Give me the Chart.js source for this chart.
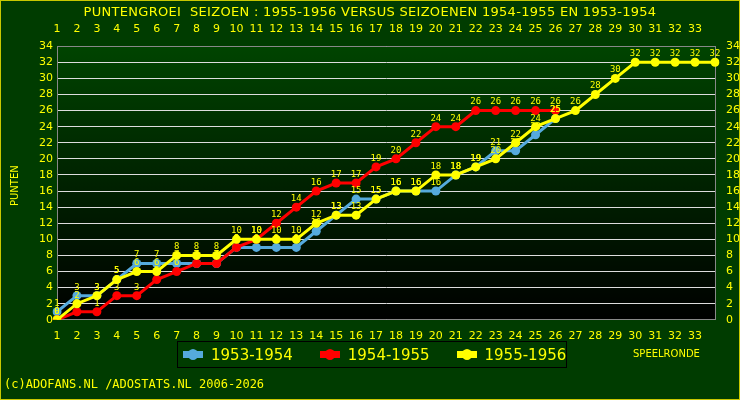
<!DOCTYPE html>
<html>
<head>
<meta charset="utf-8">
<script src="https://cdn.jsdelivr.net/npm/chart.js@4"></script>
<style>
body { margin: 0; background: #003c00; }
#wrap { position: relative; width: 738px; height: 398px; border: 1px solid #c8c800; background: #003c00; font-family: "DejaVu Sans", sans-serif; color: #ffff00; }
#title { position: absolute; top: 3px; left: 0; width: 738px; text-align: center; font-size: 13px; letter-spacing: 0.3px; }
#legend { position: absolute; left: 176px; top: 340px; width: 388px; height: 25px; border: 1px solid #000; display: flex; align-items: center; font-size: 15px; white-space: nowrap; }
#legend span.it { display: flex; align-items: center; margin-left: 5px; margin-right: 22px; }
.mk { position: relative; width: 20px; height: 7px; margin-right: 8px; }
.mk i { position: absolute; left: 5px; top: -2px; width: 10px; height: 11px; border-radius: 50%; }
#speel { position: absolute; left: 632px; top: 347px; font-size: 10px; }
#copy { position: absolute; left: 3px; top: 376px; font-size: 12px; font-family: "DejaVu Sans Mono", monospace; }
#punten { position: absolute; left: 8px; top: 205px; font-size: 10px; transform: rotate(-90deg); transform-origin: left top; }
canvas { position: absolute; left: 0; top: 0; }
</style>
</head>
<body>
<div id="wrap">
  <canvas id="c" width="738" height="398"></canvas>
  <div id="title">PUNTENGROEI&nbsp; SEIZOEN : 1955-1956 VERSUS SEIZOENEN 1954-1955 EN 1953-1954</div>
  <div id="punten">PUNTEN</div>
  <div id="legend">
    <span class="it"><span class="mk" style="background:#55aadd"><i style="background:#55aadd"></i></span>1953-1954</span>
    <span class="it"><span class="mk" style="background:#ff0000"><i style="background:#ff0000"></i></span>1954-1955</span>
    <span class="it"><span class="mk" style="background:#ffff00"><i style="background:#ffff00"></i></span>1955-1956</span>
  </div>
  <div id="speel">SPEELRONDE</div>
  <div id="copy">(c)ADOFANS.NL /ADOSTATS.NL 2006-2026</div>
</div>
<script>
// speelrondes
var rondes = [];
for (var i = 1; i <= 34; i++) rondes.push(String(i));

var seizoen5354 = [1,3,3,5,7,7,7,7,7,9,9,9,9,11,13,15,15,16,16,16,18,19,21,21,23,25];
var seizoen5455 = [0,1,1,3,3,5,6,7,7,9,10,12,14,16,17,17,19,20,22,24,24,26,26,26,26,26];
var seizoen5556 = [0,2,3,5,6,6,8,8,8,10,10,10,10,12,13,13,15,16,16,18,18,19,20,22,24,25,26,28,30,32,32,32,32,32];

// achtergrond van het plotgebied
var bgPlugin = {
    id: "bg",
    beforeDraw: function (chart) {
        var a = chart.chartArea, ctx = chart.ctx;
        var g = ctx.createLinearGradient(0, a.top, 0, a.bottom);
        g.addColorStop(0, "#004400");
        g.addColorStop(1, "#000000");
        ctx.fillStyle = g;
        ctx.fillRect(a.left, a.top, a.right - a.left, a.bottom - a.top);
    }
};

// waardes boven de punten
var labelPlugin = {
    id: "labels",
    afterDatasetsDraw: function (chart) {
        var ctx = chart.ctx;
        ctx.save();
        ctx.font = "9px 'DejaVu Sans Mono'";
        ctx.textAlign = "center";
        ctx.textBaseline = "bottom";
        chart.data.datasets.forEach(function (ds, di) {
            var meta = chart.getDatasetMeta(di);
            ctx.fillStyle = ds.labelColor;
            meta.data.forEach(function (pt, idx) {
                ctx.fillText(ds.data[idx], pt.x, pt.y - 4);
            });
        });
        ctx.restore();
    }
};

function ds(label, data, color, order) {
    return {
        label: label, data: data, borderColor: color, backgroundColor: color, order: order,
        borderWidth: 3, pointRadius: 4.5, pointBorderWidth: 0, labelColor: "#ffff00", tension: 0
    };
}

var tickStyle = { color: "#ffff00", font: { size: 11, family: "DejaVu Sans" } };

new Chart(document.getElementById("c"), {
    type: "line",
    data: {
        labels: rondes,
        datasets: [
            ds("1953-1954", seizoen5354, "#55aadd", 3),
            ds("1954-1955", seizoen5455, "#ff0000", 2),
            ds("1955-1956", seizoen5556, "#ffff00", 1)
        ]
    },
    options: {
        responsive: false,
        animation: false,
        layout: { padding: { left: 22, right: 0, top: 20, bottom: 54 } },
        plugins: { legend: { display: false }, tooltip: { enabled: false } },
        scales: {
            x: {
                offset: false,
                grid: { display: false },
                border: { color: "#888888" },
                ticks: Object.assign({ maxRotation: 0, autoSkip: false, padding: 2,
                    callback: function (v, i) { return i < 33 ? rondes[i] : ""; } }, tickStyle)
            },
            x2: {
                position: "top", offset: false, labels: rondes,
                grid: { display: false }, border: { color: "#888888" },
                ticks: Object.assign({ maxRotation: 0, autoSkip: false, padding: 2,
                    callback: function (v, i) { return i < 33 ? rondes[i] : ""; } }, tickStyle)
            },
            y: {
                min: 0, max: 34,
                grid: { color: "#dddddd", lineWidth: 1, drawTicks: false },
                border: { color: "#888888" },
                ticks: Object.assign({ stepSize: 2, padding: 4, autoSkip: false }, tickStyle),
                afterFit: function (s) { s.width = 34; }
            },
            y2: {
                position: "right", min: 0, max: 34,
                grid: { display: false }, border: { color: "#888888" },
                ticks: Object.assign({ stepSize: 2, padding: 3, autoSkip: false }, tickStyle),
                afterFit: function (s) { s.width = 24; }
            }
        }
    },
    plugins: [bgPlugin, labelPlugin]
});
</script>
</body>
</html>
